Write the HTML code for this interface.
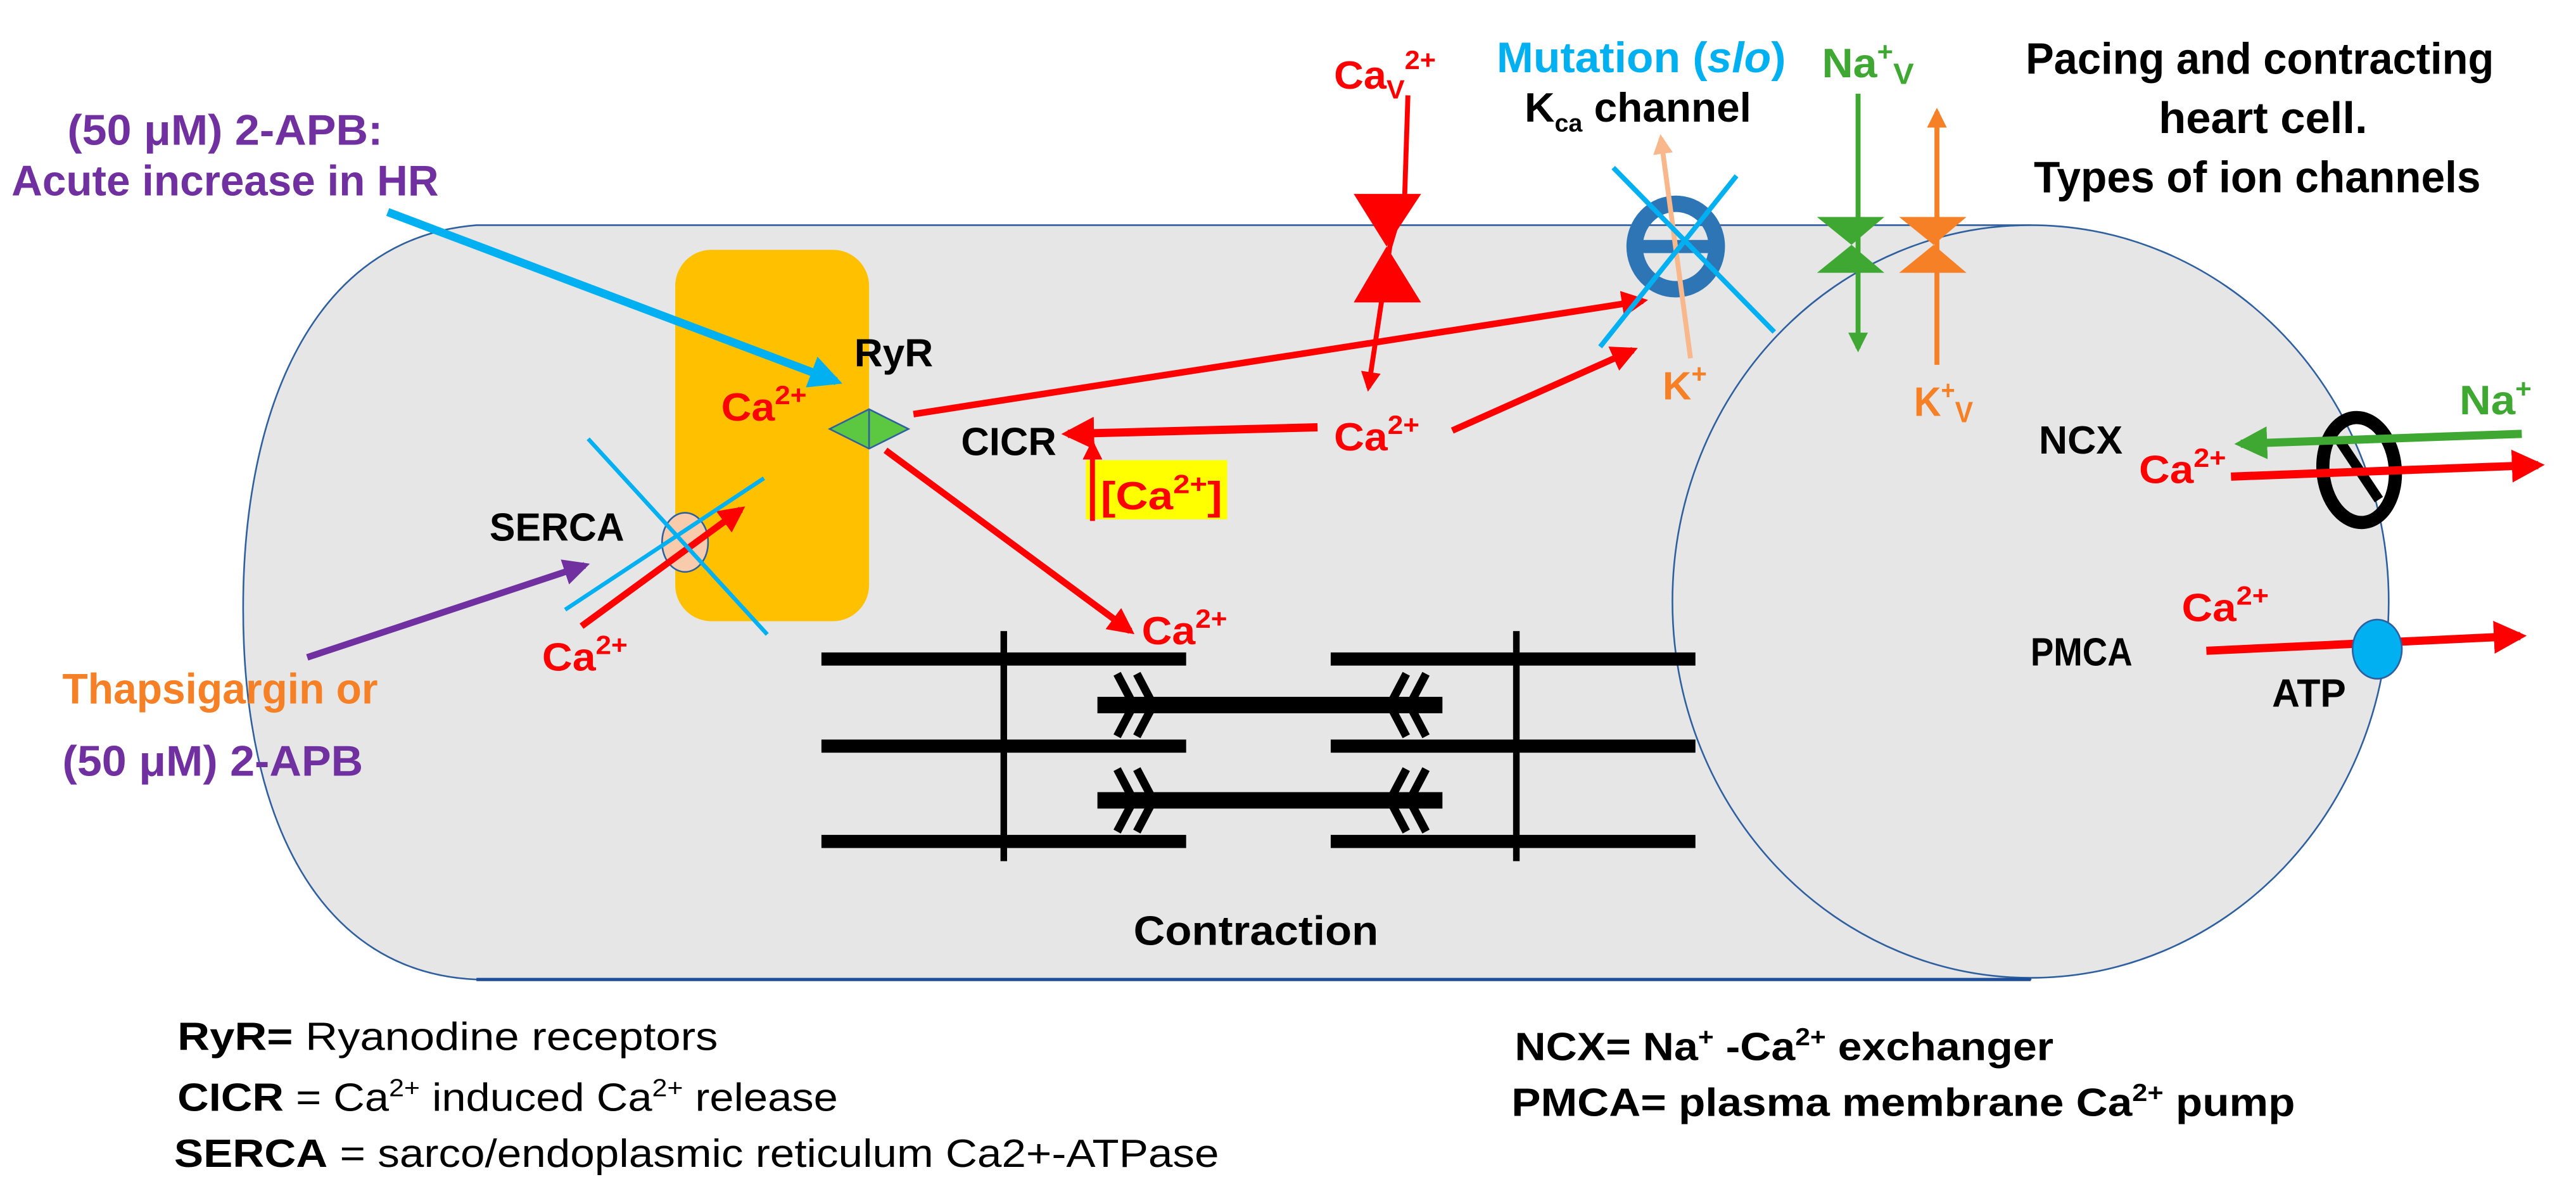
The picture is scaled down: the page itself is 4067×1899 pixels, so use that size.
<!DOCTYPE html>
<html><head><meta charset="utf-8"><style>
html,body{margin:0;padding:0;background:#fff;}
svg{display:block;}
text{font-family:"Liberation Sans",sans-serif;font-weight:bold;}
</style></head><body>
<svg width="4067" height="1899" viewBox="0 0 1568 732" preserveAspectRatio="none" xmlns="http://www.w3.org/2000/svg">
<defs>
<marker id="ar" viewBox="0 0 10 10" refX="8" refY="5" markerWidth="4" markerHeight="4" orient="auto" markerUnits="strokeWidth"><path d="M0,0 L10,5 L0,10 z" fill="#ff0000"/></marker>
<marker id="ab" viewBox="0 0 10 10" refX="8" refY="5" markerWidth="4" markerHeight="4" orient="auto" markerUnits="strokeWidth"><path d="M0,0 L10,5 L0,10 z" fill="#00b0f0"/></marker>
<marker id="ap" viewBox="0 0 10 10" refX="8" refY="5" markerWidth="4" markerHeight="4" orient="auto" markerUnits="strokeWidth"><path d="M0,0 L10,5 L0,10 z" fill="#7030a0"/></marker>
<marker id="ag" viewBox="0 0 10 10" refX="8" refY="5" markerWidth="4" markerHeight="4" orient="auto" markerUnits="strokeWidth"><path d="M0,0 L10,5 L0,10 z" fill="#3ea832"/></marker>
<marker id="ao" viewBox="0 0 10 10" refX="8" refY="5" markerWidth="4" markerHeight="4" orient="auto" markerUnits="strokeWidth"><path d="M0,0 L10,5 L0,10 z" fill="#f58025"/></marker>
<marker id="al" viewBox="0 0 10 10" refX="8" refY="5" markerWidth="4" markerHeight="4" orient="auto" markerUnits="strokeWidth"><path d="M0,0 L10,5 L0,10 z" fill="#f8b88b"/></marker>
</defs>

<!-- cell body -->
<path d="M1236,137 L290,137 C190,145 148,250 148,370 C148,500 195,592 290,596 L1236,596 Z" fill="#e6e6e6" stroke="#2e5f9e" stroke-width="1"/>
<ellipse cx="1236" cy="366" rx="218" ry="229" fill="#e6e6e6" stroke="#2e5f9e" stroke-width="1"/>
<line x1="290" y1="596" x2="1236" y2="596" stroke="#1f4e99" stroke-width="2"/>

<!-- SR -->
<rect x="411" y="152" width="118" height="226" rx="22" fill="#ffc000"/>

<!-- top left text -->
<text x="41" y="88" font-size="26" fill="#7030a0" textLength="192" lengthAdjust="spacingAndGlyphs">(50 μM) 2-APB:</text>
<text x="7" y="119" font-size="26" fill="#7030a0" textLength="260" lengthAdjust="spacingAndGlyphs">Acute increase in HR</text>
<line x1="236" y1="129" x2="509" y2="232" stroke="#00b0f0" stroke-width="5" marker-end="url(#ab)"/>

<text x="520" y="223" font-size="24" fill="#000" textLength="48" lengthAdjust="spacingAndGlyphs">RyR</text>
<text x="439" y="256" font-size="24" fill="#ff0000" textLength="52" lengthAdjust="spacingAndGlyphs">Ca<tspan font-size="16" dy="-10">2+</tspan></text>
<polygon points="505,261 529,249 553,261 529,273" fill="#5cc842" stroke="#2e5f9e" stroke-width="1"/>
<line x1="529" y1="249" x2="529" y2="273" stroke="#2e5f9e" stroke-width="1"/>

<!-- red arrows -->
<line x1="556" y1="252" x2="1000" y2="183" stroke="#ff0000" stroke-width="4" marker-end="url(#ar)"/>
<line x1="539" y1="274" x2="688" y2="384" stroke="#ff0000" stroke-width="4" marker-end="url(#ar)"/>
<text x="695" y="392" font-size="24" fill="#ff0000" textLength="52" lengthAdjust="spacingAndGlyphs">Ca<tspan font-size="16" dy="-10">2+</tspan></text>
<text x="585" y="277" font-size="24" fill="#000" textLength="58" lengthAdjust="spacingAndGlyphs">CICR</text>
<line x1="802" y1="260" x2="650" y2="264" stroke="#ff0000" stroke-width="5" marker-end="url(#ar)"/>
<text x="812" y="274" font-size="24" fill="#ff0000" textLength="52" lengthAdjust="spacingAndGlyphs">Ca<tspan font-size="16" dy="-10">2+</tspan></text>
<line x1="884" y1="262" x2="994" y2="213" stroke="#ff0000" stroke-width="4" marker-end="url(#ar)"/>
<rect x="661" y="280" width="86" height="36" fill="#ffff00"/>
<line x1="665" y1="317" x2="665" y2="270" stroke="#ff0000" stroke-width="3" marker-end="url(#ar)"/>
<text x="670" y="310" font-size="24" fill="#ff0000" textLength="74" lengthAdjust="spacingAndGlyphs">[Ca<tspan font-size="16" dy="-10">2+</tspan><tspan dy="10">]</tspan></text>

<!-- SERCA -->
<text x="298" y="329" font-size="24" fill="#000" textLength="82" lengthAdjust="spacingAndGlyphs">SERCA</text>
<ellipse cx="417" cy="330" rx="14" ry="18" fill="#f8cbad" stroke="#2e5f9e" stroke-width="1"/>
<line x1="354" y1="381" x2="451" y2="310" stroke="#ff0000" stroke-width="4" marker-end="url(#ar)"/>
<line x1="344" y1="371" x2="465" y2="291" stroke="#00b0f0" stroke-width="2.5"/>
<line x1="358" y1="267" x2="467" y2="386" stroke="#00b0f0" stroke-width="2.5"/>
<line x1="187" y1="400" x2="356" y2="344" stroke="#7030a0" stroke-width="4" marker-end="url(#ap)"/>
<text x="330" y="408" font-size="24" fill="#ff0000" textLength="52" lengthAdjust="spacingAndGlyphs">Ca<tspan font-size="16" dy="-10">2+</tspan></text>
<text x="38" y="428" font-size="26" fill="#f58025" textLength="192" lengthAdjust="spacingAndGlyphs">Thapsigargin or</text>
<text x="38" y="472" font-size="26" fill="#7030a0" textLength="183" lengthAdjust="spacingAndGlyphs">(50 μM) 2-APB</text>

<!-- sarcomere -->
<g fill="#000">
<rect x="500" y="397" width="222" height="8"/><rect x="810" y="397" width="222" height="8"/>
<rect x="500" y="450" width="222" height="8"/><rect x="810" y="450" width="222" height="8"/>
<rect x="500" y="508" width="222" height="8"/><rect x="810" y="508" width="222" height="8"/>
<rect x="609" y="384" width="4" height="140"/><rect x="921" y="384" width="4" height="140"/>
<rect x="668" y="424" width="210" height="10"/><rect x="668" y="482" width="210" height="10"/>
</g>
<g stroke="#000" stroke-width="5" fill="none">
<polyline points="680,410 690,429 680,448"/><polyline points="692,410 702,429 692,448"/>
<polyline points="680,468 690,487 680,506"/><polyline points="692,468 702,487 692,506"/>
<polyline points="856,410 846,429 856,448"/><polyline points="868,410 858,429 868,448"/>
<polyline points="856,468 846,487 856,506"/><polyline points="868,468 858,487 868,506"/>
</g>
<text x="690" y="575" font-size="25" fill="#000" textLength="149" lengthAdjust="spacingAndGlyphs">Contraction</text>

<!-- Ca V channel -->
<text x="812" y="54" font-size="24" fill="#ff0000" textLength="62" lengthAdjust="spacingAndGlyphs">Ca<tspan font-size="16" dy="6">V</tspan><tspan font-size="16" dy="-18">2+</tspan></text>
<polyline points="857,58 855,120 846,150 833,236" stroke="#ff0000" stroke-width="3" fill="none" marker-end="url(#ar)"/>
<polygon points="824,118 865,118 844,150" fill="#ff0000"/>
<polygon points="844,150 865,184 824,184" fill="#ff0000"/>

<!-- Kca -->
<text x="911" y="44" font-size="26" fill="#00b0f0" textLength="176" lengthAdjust="spacingAndGlyphs">Mutation (<tspan font-style="italic">slo</tspan>)</text>
<text x="928" y="74" font-size="25" fill="#000" textLength="138" lengthAdjust="spacingAndGlyphs">K<tspan font-size="15" dy="6">ca</tspan><tspan dy="-6"> channel</tspan></text>
<ellipse cx="1020" cy="150" rx="25" ry="26" fill="none" stroke="#2e75b6" stroke-width="10"/>
<rect x="996" y="146" width="48" height="8" fill="#2e75b6"/>
<line x1="1029" y1="218" x2="1011" y2="84" stroke="#f8b88b" stroke-width="3" marker-end="url(#al)"/>
<line x1="982" y1="102" x2="1080" y2="202" stroke="#00b0f0" stroke-width="3"/>
<line x1="1057" y1="107" x2="974" y2="211" stroke="#00b0f0" stroke-width="3"/>
<text x="1012" y="243" font-size="24" fill="#f58025" textLength="27" lengthAdjust="spacingAndGlyphs">K<tspan font-size="16" dy="-10">+</tspan></text>

<!-- Na V -->
<text x="1109" y="47" font-size="25" fill="#3ea832" textLength="56" lengthAdjust="spacingAndGlyphs">Na<tspan font-size="16" dy="-10">+</tspan><tspan font-size="18" dy="14">V</tspan></text>
<line x1="1131" y1="57" x2="1131" y2="212" stroke="#3ea832" stroke-width="3" marker-end="url(#ag)"/>
<polygon points="1106,132 1147,132 1127,149" fill="#3ea832"/>
<polygon points="1127,149 1147,166 1106,166" fill="#3ea832"/>
<!-- K V -->
<line x1="1179" y1="222" x2="1179" y2="68" stroke="#f58025" stroke-width="3" marker-end="url(#ao)"/>
<polygon points="1156,132 1197,132 1177,149" fill="#f58025"/>
<polygon points="1177,149 1197,166 1156,166" fill="#f58025"/>
<text x="1165" y="253" font-size="25" fill="#f58025" textLength="36" lengthAdjust="spacingAndGlyphs">K<tspan font-size="16" dy="-10">+</tspan><tspan font-size="18" dy="14">V</tspan></text>

<!-- title -->
<text x="1233" y="45" font-size="27" fill="#000" textLength="285" lengthAdjust="spacingAndGlyphs">Pacing and contracting</text>
<text x="1314" y="81" font-size="27" fill="#000" textLength="127" lengthAdjust="spacingAndGlyphs">heart cell.</text>
<text x="1238" y="117" font-size="27" fill="#000" textLength="272" lengthAdjust="spacingAndGlyphs">Types of ion channels</text>

<!-- NCX -->
<text x="1241" y="276" font-size="24" fill="#000" textLength="51" lengthAdjust="spacingAndGlyphs">NCX</text>
<text x="1497" y="252" font-size="25" fill="#3ea832" textLength="44" lengthAdjust="spacingAndGlyphs">Na<tspan font-size="16" dy="-10">+</tspan></text>
<ellipse cx="1436" cy="286" rx="22" ry="32" transform="rotate(-5 1436 286)" fill="none" stroke="#000" stroke-width="8"/>
<line x1="1424" y1="268" x2="1448" y2="304" stroke="#000" stroke-width="6"/>
<line x1="1535" y1="264" x2="1364" y2="270" stroke="#3ea832" stroke-width="5" marker-end="url(#ag)"/>
<text x="1302" y="294" font-size="24" fill="#ff0000" textLength="53" lengthAdjust="spacingAndGlyphs">Ca<tspan font-size="16" dy="-10">2+</tspan></text>
<line x1="1358" y1="290" x2="1545" y2="283" stroke="#ff0000" stroke-width="5" marker-end="url(#ar)"/>

<!-- PMCA -->
<text x="1328" y="378" font-size="24" fill="#ff0000" textLength="53" lengthAdjust="spacingAndGlyphs">Ca<tspan font-size="16" dy="-10">2+</tspan></text>
<text x="1236" y="405" font-size="24" fill="#000" textLength="62" lengthAdjust="spacingAndGlyphs">PMCA</text>
<line x1="1343" y1="396" x2="1534" y2="387" stroke="#ff0000" stroke-width="5" marker-end="url(#ar)"/>
<ellipse cx="1447" cy="395" rx="15" ry="18" fill="#00b0f0" stroke="#2e5f9e" stroke-width="1"/>
<text x="1383" y="430" font-size="24" fill="#000" textLength="45" lengthAdjust="spacingAndGlyphs">ATP</text>

<!-- legend -->
<g font-size="24" fill="#000">
<text x="108" y="639" textLength="329" lengthAdjust="spacingAndGlyphs">RyR=<tspan font-weight="normal"> Ryanodine receptors</tspan></text>
<text x="108" y="676" textLength="402" lengthAdjust="spacingAndGlyphs">CICR<tspan font-weight="normal"> = Ca<tspan font-size="15" dy="-9">2+</tspan><tspan dy="9"> induced Ca</tspan><tspan font-size="15" dy="-9">2+</tspan><tspan dy="9"> release</tspan></tspan></text>
<text x="106" y="710" textLength="636" lengthAdjust="spacingAndGlyphs">SERCA<tspan font-weight="normal"> = sarco/endoplasmic reticulum Ca2+-ATPase</tspan></text>
<text x="922" y="645" textLength="328" lengthAdjust="spacingAndGlyphs">NCX= Na<tspan font-size="15" dy="-9">+</tspan><tspan dy="9"> -Ca</tspan><tspan font-size="15" dy="-9">2+</tspan><tspan dy="9"> exchanger</tspan></text>
<text x="920" y="679" textLength="477" lengthAdjust="spacingAndGlyphs">PMCA= plasma membrane Ca<tspan font-size="15" dy="-9">2+</tspan><tspan dy="9"> pump</tspan></text>
</g>
</svg>
</body></html>
